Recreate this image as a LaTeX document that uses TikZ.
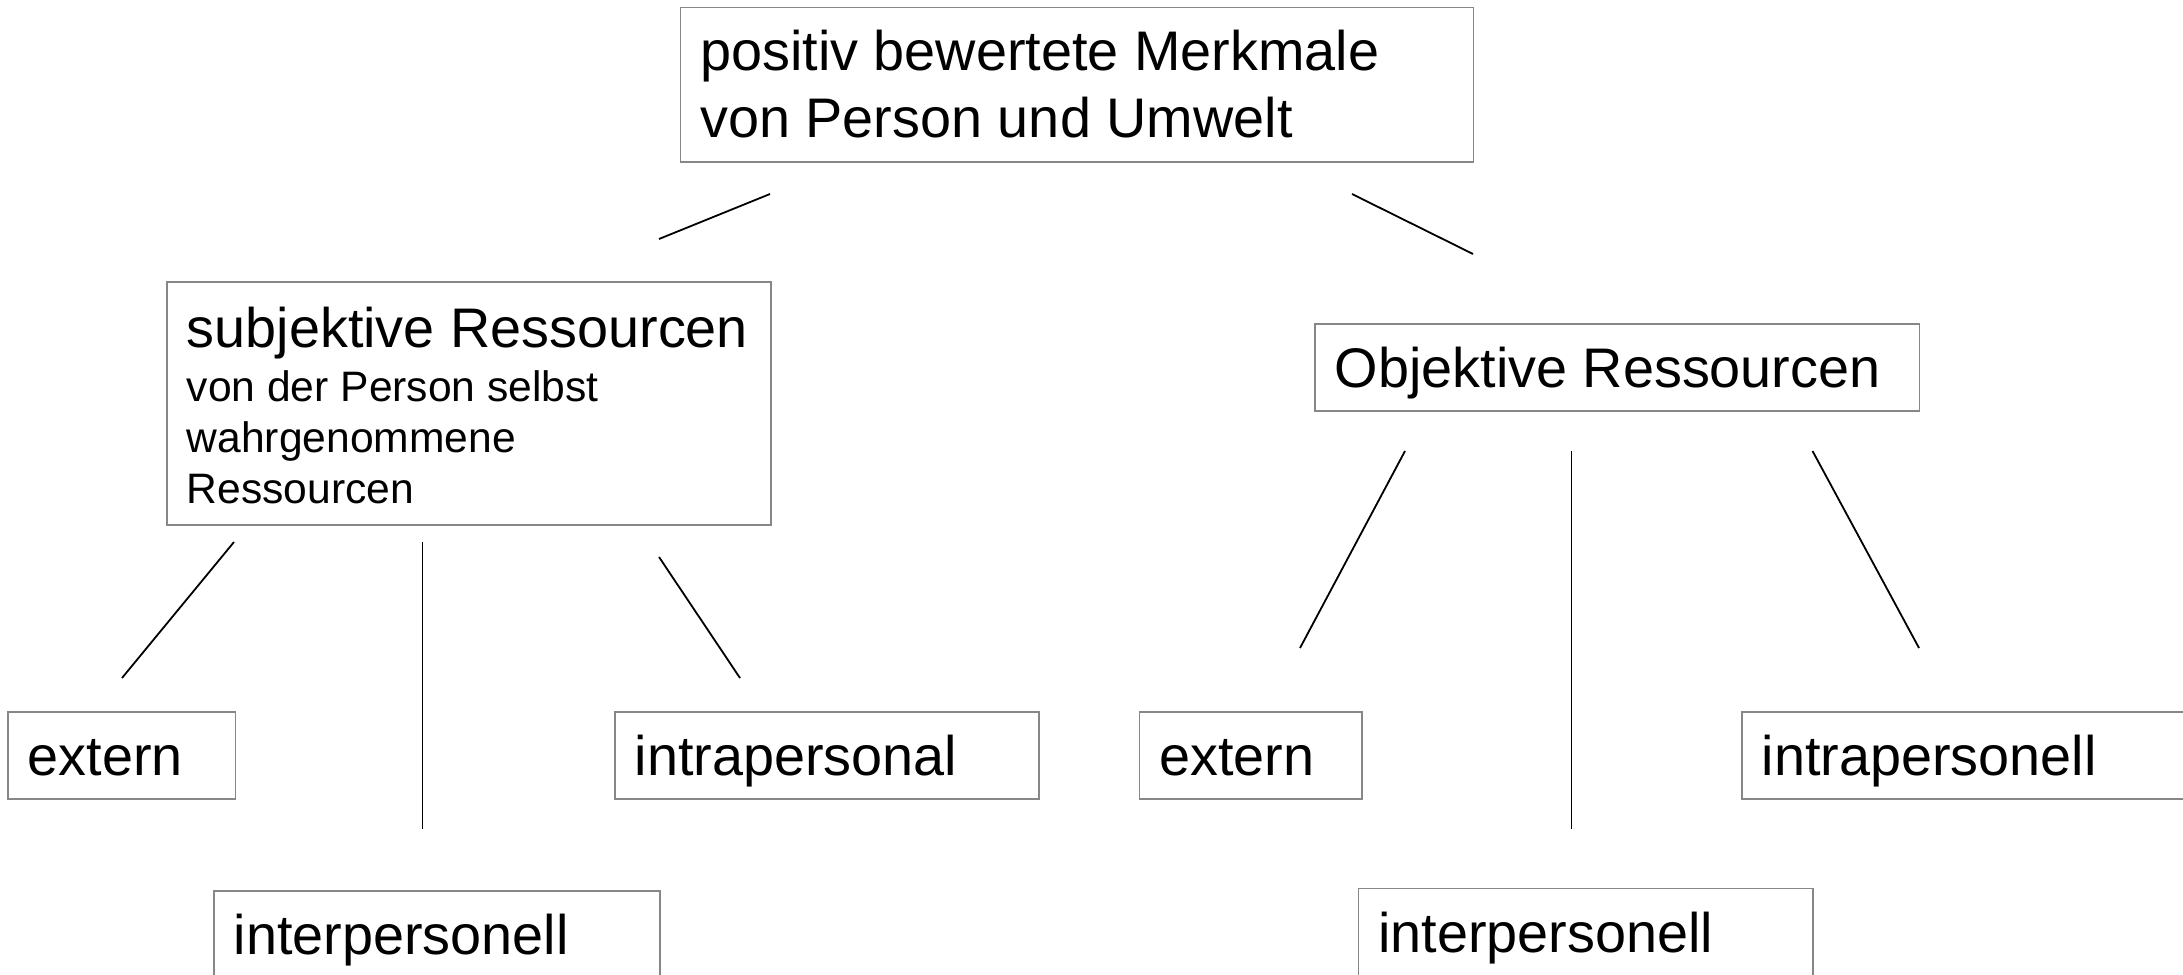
\documentclass[tikz,border=0pt]{standalone}
\usepackage{fontspec}
\setmainfont{Liberation Sans}
\newcommand\bigtype{\fontsize{55.8}{67}\selectfont}
\newcommand\smalltype{\fontsize{42.6}{51}\selectfont}
\definecolor{boxgray}{gray}{0.53}
\tikzset{
  box/.style={draw=boxgray, line width=1.5pt, anchor=north west,
    inner xsep=20pt, inner ysep=0pt, align=flush left, font=\bigtype, text=black},
  onebox/.style={box, text height=64pt, text depth=23pt},
  link/.style={line width=1.8pt, draw=black},
}
\begin{document}
\begin{tikzpicture}[x=1pt, y=-1pt]
\useasboundingbox (0,0) rectangle (2183,974);

% boxes
\node[box, text width=753pt, text height=63pt, text depth=91pt] (top) at (679.5,7)
  {positiv bewertete Merkmale\\von Person und Umwelt};
\node[box, text width=564pt, text height=66pt, text depth=177pt] (subj) at (166,281)
  {\mbox{subjektive Ressourcen}\par\vspace{3pt}\smalltype
   \mbox{von der Person selbst}\par wahrgenommene\par Ressourcen\par};
\node[onebox, text width=564.5pt] (obj) at (1314,323) {\mbox{Objektive Ressourcen}};

\node[onebox, text width=187.5pt] (extL) at (7,711) {extern};
\node[onebox, text width=384pt] (intraL) at (614,711) {intrapersonal};
\node[onebox, text width=406pt] (interL) at (213,890) {interpersonell};

\node[onebox, text width=182.5pt] (extR) at (1138.5,711) {extern};
\node[onebox, text width=430pt] (intraR) at (1741,711) {intrapersonell};
\node[onebox, text width=414.5pt] (interR) at (1357.5,887.5) {interpersonell};

% free-standing connector ends
\coordinate (a1) at (770,194);   \coordinate (a2) at (659,239);
\coordinate (b1) at (1352,194);  \coordinate (b2) at (1473,254);
\coordinate (c1) at (234,542);   \coordinate (c2) at (122,678);
\coordinate (d1) at (422.5,542); \coordinate (d2) at (422.5,829);
\coordinate (e1) at (659,557);   \coordinate (e2) at (740,678);
\coordinate (f1) at (1405,451);  \coordinate (f2) at (1300,648);
\coordinate (g1) at (1571.5,451);\coordinate (g2) at (1571.5,829);
\coordinate (h1) at (1812.5,451);\coordinate (h2) at (1919,648);

\draw[link] (a1) -- (a2);
\draw[link] (b1) -- (b2);
\draw[link] (c1) -- (c2);
\draw[link] (d1) -- (d2);
\draw[link] (e1) -- (e2);
\draw[link] (f1) -- (f2);
\draw[link] (g1) -- (g2);
\draw[link] (h1) -- (h2);
\end{tikzpicture}
\end{document}
